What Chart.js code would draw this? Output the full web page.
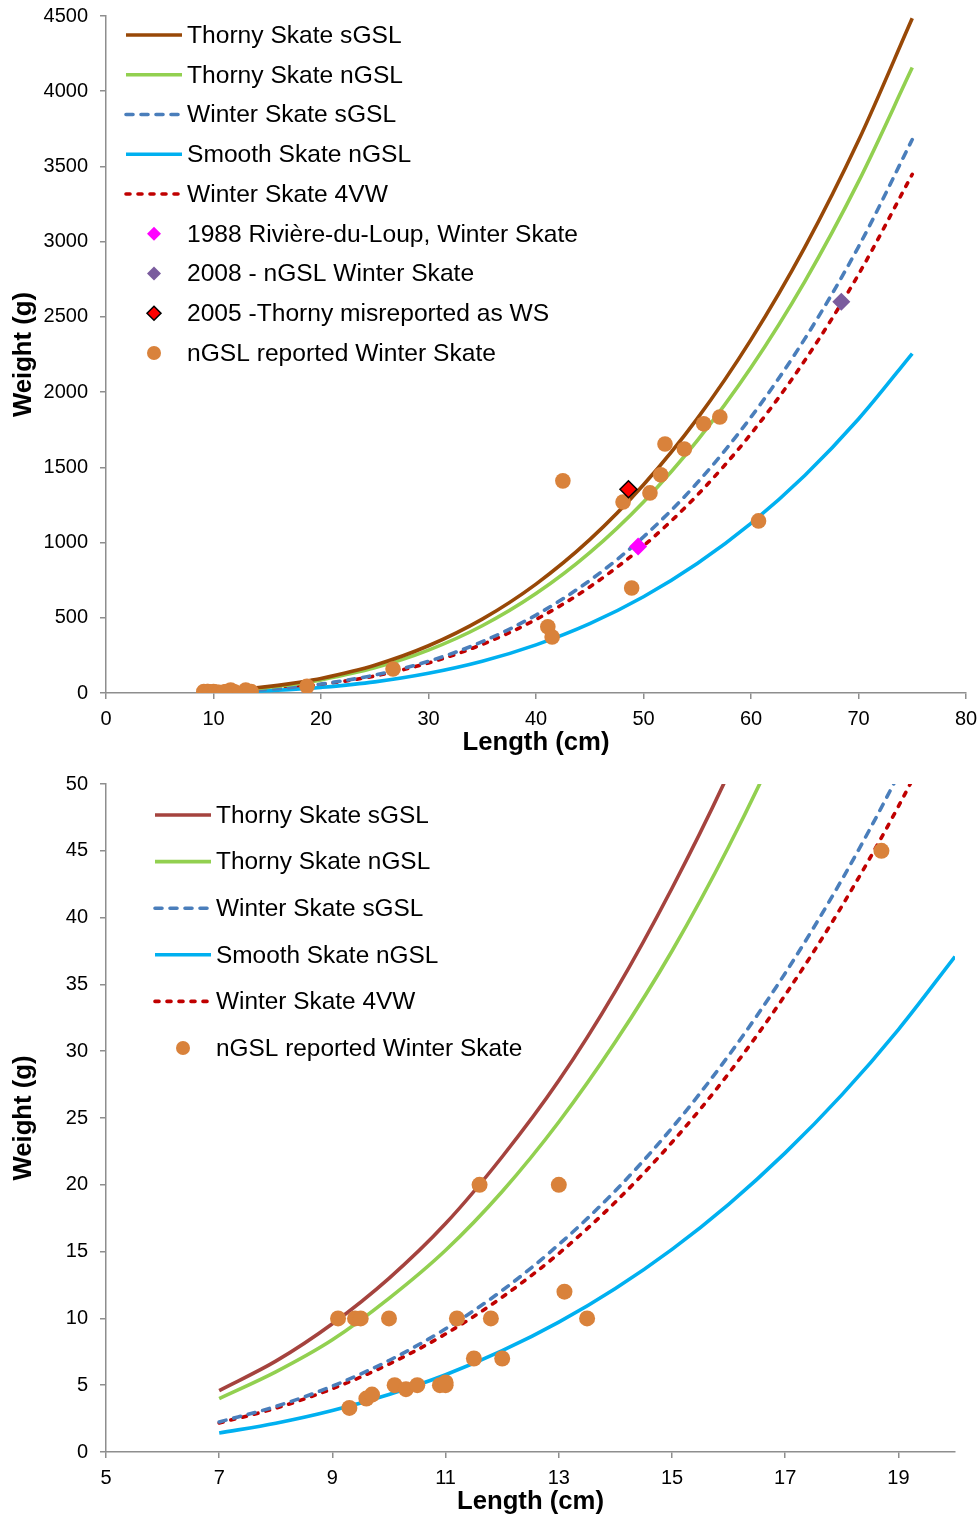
<!DOCTYPE html>
<html>
<head>
<meta charset="utf-8">
<script src="https://cdn.jsdelivr.net/npm/chart.js@4.4.1/dist/chart.umd.min.js"></script>
<style>
  html, body { margin: 0; padding: 0; background: #fff; }
  .box { position: relative; width: 980px; }
  #topBox { height: 758px; }
  #bottomBox { height: 759px; }
</style>
</head>
<body>
<div class="box" id="topBox"><canvas id="chartTop"></canvas></div>
<div class="box" id="bottomBox"><canvas id="chartBottom"></canvas></div>
<script>
const lenFine = [7, 8, 9, 10, 11, 12, 13, 14, 15, 16, 17, 18, 19, 20];
const lenCoarse = [25, 30, 35, 40, 45, 50, 55, 60, 65, 70, 75];

// weights (g) of each curve at those lengths
const thornySouthFine = [4.6, 6.8, 9.6, 13.0, 17.1, 22.1, 27.8, 34.5, 42.2, 50.8, 60.6, 71.5, 83.6, 97.0];
const thornySouthCoarse = [185, 314, 491, 724, 1019, 1384, 1824, 2349, 2962, 3672, 4485];
const thornyNorthFine = [4.0, 6.0, 8.4, 11.5, 15.1, 19.5, 24.7, 30.7, 37.5, 45.3, 54.1, 63.9, 74.9, 87.0];
const thornyNorthCoarse = [167, 285, 447, 661, 933, 1270, 1678, 2164, 2735, 3399, 4157];
const winterSouthFine = [2.25, 3.41, 4.93, 6.85, 9.22, 12.09, 15.53, 19.56, 24.26, 29.67, 35.84, 42.83, 50.7, 59.5];
const winterSouthCoarse = [119, 211, 341, 518, 748, 1038, 1397, 1834, 2354, 2966, 3679];
const smoothNorthFine = [1.42, 2.15, 3.10, 4.31, 5.78, 7.58, 9.72, 12.24, 15.17, 18.54, 22.39, 26.73, 31.62, 37.08];
const smoothNorthCoarse = [74, 131, 211, 320, 461, 640, 861, 1128, 1446, 1821, 2256];
const winter4vwFine = [2.17, 3.28, 4.74, 6.58, 8.84, 11.59, 14.86, 18.71, 23.18, 28.33, 34.21, 40.85, 48.32, 56.66];
const winter4vwCoarse = [113, 200, 323, 489, 705, 978, 1315, 1723, 2210, 2782, 3448];

// observations
const reportedSmallLen = [9.1, 9.4, 9.5, 10.0, 11.2, 11.8, 13.5, 11.6, 13.0, 13.1, 11.5, 12.0, 9.3, 9.6, 9.7, 10.1, 10.3, 10.5, 10.9, 11.0, 11.0, 18.7];
const reportedSmallWt = [10, 10, 10, 10, 10, 10, 10, 20, 20, 12, 7, 7, 3.3, 4, 4.3, 5, 4.7, 5, 5, 5, 5.2, 45];
const reportedLargeLen = [26.7, 41.1, 41.5, 42.5, 48.1, 48.9, 50.6, 51.6, 52.0, 53.8, 55.6, 57.1, 60.7];
const reportedLargeWt = [160, 440, 372, 1410, 1270, 698, 1330, 1450, 1655, 1622, 1789, 1835, 1144];
const rdl1988Len = [49.5];
const rdl1988Wt = [973];
const ngsl2008Len = [68.4];
const ngsl2008Wt = [2600];
const misreport2005Len = [48.6];
const misreport2005Wt = [1354];

// axis ticks
const topXTicks = [0, 10, 20, 30, 40, 50, 60, 70, 80];
const topYTicks = [0, 500, 1000, 1500, 2000, 2500, 3000, 3500, 4000, 4500];
const bottomXTicks = [5, 7, 9, 11, 13, 15, 17, 19];
const bottomYTicks = [0, 5, 10, 15, 20, 25, 30, 35, 40, 45, 50];

const FONT = "'Liberation Sans', Arial, sans-serif";
const AXIS_GREY = '#8e8e8e';

const pts = (xs, ys) => xs.map((x, i) => ({ x, y: ys[i] }));

function curve(label, color, data, dash) {
  return {
    label,
    data,
    borderColor: color,
    backgroundColor: color,
    borderWidth: 3.6,
    borderDash: dash || [],
    borderCapStyle: dash ? 'round' : 'butt',
    cubicInterpolationMode: 'monotone',
    pointRadius: 0,
    pointHoverRadius: 0,
    order: 2,
  };
}

function marks(label, color, data, style, radius, border) {
  return {
    label,
    data,
    showLine: false,
    pointStyle: style,
    pointRadius: radius,
    pointHoverRadius: radius,
    backgroundColor: color,
    borderColor: border || color,
    pointBorderWidth: border ? 1.5 : 0,
    order: 1,
  };
}

// legend drawn inside the plot, Excel style
const insideLegend = {
  id: 'insideLegend',
  afterDraw(chart, args, opts) {
    const ctx = chart.ctx;
    ctx.save();
    ctx.font = opts.font;
    ctx.textBaseline = 'middle';
    opts.items.forEach((idx, i) => {
      const ds = chart.data.datasets[idx];
      const y = opts.top + i * opts.rowHeight;
      if (ds.showLine === false) {
        const cx = opts.left + opts.sampleWidth / 2;
        const r = ds.pointStyle === 'circle' ? opts.dotRadius : opts.diamondRadius;
        ctx.fillStyle = ds.backgroundColor;
        ctx.strokeStyle = ds.borderColor;
        ctx.lineWidth = ds.pointBorderWidth;
        ctx.beginPath();
        if (ds.pointStyle === 'circle') {
          ctx.arc(cx, y, r, 0, Math.PI * 2);
        } else {
          ctx.moveTo(cx, y - r); ctx.lineTo(cx + r, y); ctx.lineTo(cx, y + r); ctx.lineTo(cx - r, y); ctx.closePath();
        }
        ctx.fill();
        if (ds.pointBorderWidth > 0) ctx.stroke();
      } else {
        ctx.strokeStyle = ds.borderColor;
        ctx.lineWidth = ds.borderWidth;
        ctx.lineCap = ds.borderCapStyle;
        ctx.setLineDash(ds.borderDash);
        ctx.beginPath();
        ctx.moveTo(opts.left, y);
        ctx.lineTo(opts.left + opts.sampleWidth, y);
        ctx.stroke();
        ctx.setLineDash([]);
      }
      ctx.fillStyle = '#000';
      ctx.fillText(ds.label, opts.textLeft, y + 1);
    });
    ctx.restore();
  }
};

function makeAxes(xTicks, yTicks, xMin, xMax, yMin, yMax) {
  const common = {
    type: 'linear',
    grid: { display: true, drawOnChartArea: false, drawTicks: true, tickLength: 6, color: AXIS_GREY, lineWidth: 1.5 },
    border: { display: true, color: AXIS_GREY, width: 1.5 },
  };
  return {
    x: {
      ...common,
      min: xMin, max: xMax,
      afterBuildTicks: (s) => { s.ticks = xTicks.map(v => ({ value: v })); },
      // the layout padding alone decides where the plot sits
      afterFit: (s) => { s.height = 65; s.paddingLeft = 0; s.paddingRight = 0; },
      ticks: { color: '#000', padding: 8, maxRotation: 0, autoSkip: false, callback: (v) => String(v), font: { family: FONT, size: 20 } },
      title: { display: true, text: 'Length (cm)', color: '#000', padding: { top: 0, bottom: 0 }, font: { family: FONT, size: 25.7, weight: 'bold' } },
    },
    y: {
      ...common,
      min: yMin, max: yMax,
      afterBuildTicks: (s) => { s.ticks = yTicks.map(v => ({ value: v })); },
      afterFit: (s) => { s.width = 106; s.paddingTop = 0; s.paddingBottom = 0; },
      ticks: { color: '#000', padding: 12, autoSkip: false, callback: (v) => String(v), font: { family: FONT, size: 20 } },
      title: { display: true, text: 'Weight (g)', color: '#000', padding: { top: 8, bottom: 0 }, font: { family: FONT, size: 25.7, weight: 'bold' } },
    },
  };
}

// top chart curves start at 10 cm (first three fine points dropped)
const lenTop = lenFine.slice(3).concat(lenCoarse);
const topCurve = (fine, coarse) => pts(lenTop, fine.slice(3).concat(coarse));

// ---- top chart: full length range
new Chart(document.getElementById('chartTop'), {
  type: 'line',
  data: {
    datasets: [
      curve('Thorny Skate sGSL', '#984807', topCurve(thornySouthFine, thornySouthCoarse)),
      curve('Thorny Skate nGSL', '#92d050', topCurve(thornyNorthFine, thornyNorthCoarse)),
      curve('Winter Skate sGSL', '#4a7ebb', topCurve(winterSouthFine, winterSouthCoarse), [7, 8]),
      curve('Smooth Skate nGSL', '#00b0f0', topCurve(smoothNorthFine, smoothNorthCoarse)),
      curve('Winter Skate 4VW', '#c00000', topCurve(winter4vwFine, winter4vwCoarse), [4, 8]),
      marks('1988 Rivière-du-Loup, Winter Skate', '#ff00ff', pts(rdl1988Len, rdl1988Wt), 'rectRot', 9),
      marks('2008 - nGSL Winter Skate', '#7a5c9e', pts(ngsl2008Len, ngsl2008Wt), 'rectRot', 9),
      marks('2005 -Thorny misreported as WS', '#ff0000', pts(misreport2005Len, misreport2005Wt), 'rectRot', 8.5, '#000000'),
      marks('nGSL reported Winter Skate', '#d9823b', pts(reportedSmallLen.concat(reportedLargeLen), reportedSmallWt.concat(reportedLargeWt)), 'circle', 7.8),
    ],
  },
  options: {
    responsive: true,
    maintainAspectRatio: false,
    animation: false,
    layout: { padding: { top: 16, right: 14, bottom: 0, left: 0 } },
    scales: makeAxes(topXTicks, topYTicks, 0, 80, 0, 4500),
    plugins: {
      legend: { display: false },
      tooltip: { enabled: false },
      insideLegend: {
        items: [0, 1, 2, 3, 4, 5, 6, 7, 8],
        left: 126, top: 35, rowHeight: 39.75, sampleWidth: 56, textLeft: 187,
        dotRadius: 7, diamondRadius: 7,
        font: `24.6px ${FONT}`,
      },
    },
  },
  plugins: [insideLegend],
});

// ---- bottom chart: zoom on the small fish
new Chart(document.getElementById('chartBottom'), {
  type: 'line',
  data: {
    datasets: [
      curve('Thorny Skate sGSL', '#a5433e', pts(lenFine, thornySouthFine)),
      curve('Thorny Skate nGSL', '#92d050', pts(lenFine, thornyNorthFine)),
      curve('Winter Skate sGSL', '#4a7ebb', pts(lenFine, winterSouthFine), [7, 8]),
      curve('Smooth Skate nGSL', '#00b0f0', pts(lenFine, smoothNorthFine)),
      curve('Winter Skate 4VW', '#c00000', pts(lenFine, winter4vwFine), [4, 8]),
      marks('nGSL reported Winter Skate', '#d9823b', pts(reportedSmallLen, reportedSmallWt), 'circle', 8),
    ],
  },
  options: {
    responsive: true,
    maintainAspectRatio: false,
    animation: false,
    layout: { padding: { top: 26, right: 25, bottom: 0, left: 0 } },
    scales: makeAxes(bottomXTicks, bottomYTicks, 5, 20, 0, 50),
    plugins: {
      legend: { display: false },
      tooltip: { enabled: false },
      insideLegend: {
        items: [0, 1, 2, 3, 4, 5],
        left: 155, top: 57, rowHeight: 46.6, sampleWidth: 56, textLeft: 216,
        dotRadius: 7, diamondRadius: 7,
        font: `24.4px ${FONT}`,
      },
    },
  },
  plugins: [insideLegend],
});
</script>
</body>
</html>
